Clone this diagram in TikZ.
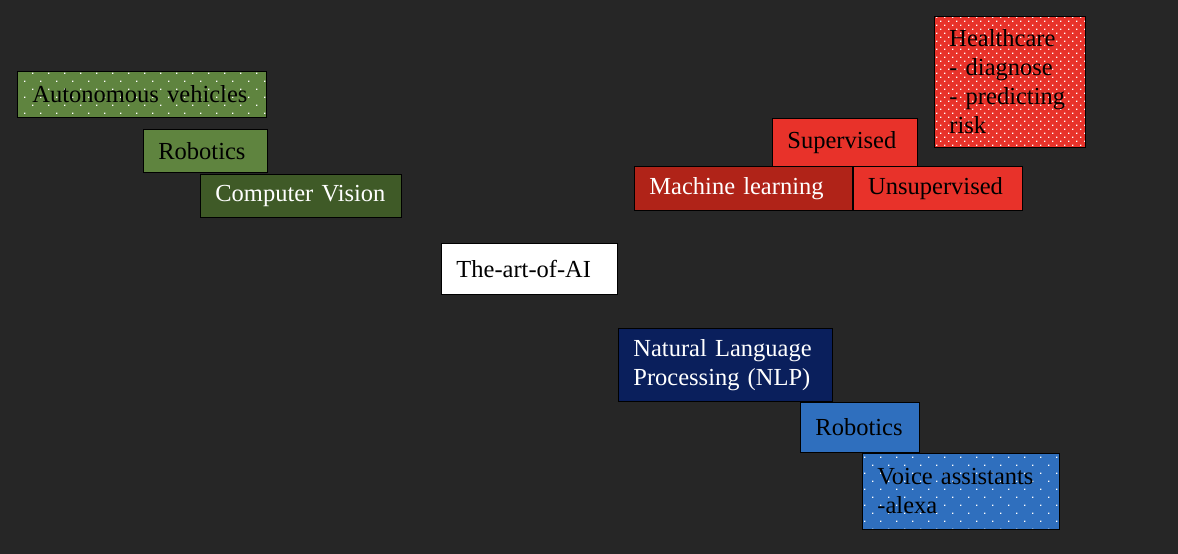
\documentclass[tikz,border=0pt]{standalone}
\usepackage{fontspec}
\setmainfont{Liberation Serif}
\usetikzlibrary{positioning}
\usetikzlibrary{patterns}
\definecolor{bgdark}{HTML}{262626}
\definecolor{leafgreen}{HTML}{5F843F}
\definecolor{mossgreen}{HTML}{3F5A27}
\definecolor{brightred}{HTML}{E8322A}
\definecolor{deepred}{HTML}{B02318}
\definecolor{navyblue}{HTML}{0A1F5C}
\definecolor{skyblue}{HTML}{2F6FBE}
% white dot patterns
\pgfdeclarepatternformonly{sparsedots}{\pgfqpoint{-1pt}{-1pt}}{\pgfqpoint{17pt}{17pt}}{\pgfqpoint{16pt}{16pt}}{
  \pgfpathrectangle{\pgfqpoint{0pt}{0pt}}{\pgfqpoint{1.4pt}{1.4pt}}
  \pgfpathrectangle{\pgfqpoint{8pt}{8pt}}{\pgfqpoint{1.4pt}{1.4pt}}
  \pgfusepath{fill}}
\pgfdeclarepatternformonly{densedots}{\pgfqpoint{-1pt}{-1pt}}{\pgfqpoint{9pt}{9pt}}{\pgfqpoint{8pt}{8pt}}{
  \pgfpathrectangle{\pgfqpoint{0pt}{0pt}}{\pgfqpoint{1.4pt}{1.4pt}}
  \pgfpathrectangle{\pgfqpoint{4pt}{4pt}}{\pgfqpoint{1.4pt}{1.4pt}}
  \pgfusepath{fill}}
\tikzset{
    topicbox/.style={
        draw=black,
        line width=0.8pt,
        anchor=north west,
        inner xsep=15pt,
        inner ysep=0pt,
        align=left,
        text=black,
        font=\fontsize{24.5}{29}\selectfont
    },
    lighttext/.style={text=white},
    dotted box/.style 2 args={
        preaction={fill=#1},
        pattern=#2,
        pattern color=white
    }
}

\begin{document}
\begin{tikzpicture}[x=1pt,y=-1pt]
\useasboundingbox[fill=bgdark] (0,0) rectangle (1178,554);

% left branch
\node[topicbox, dotted box={leafgreen}{sparsedots}, text width=219pt, minimum height=46pt] (autoveh) at (17,71) {Autonomous vehicles};
\node[topicbox, fill=leafgreen, text width=94pt, minimum height=43pt] (robogreen) at (143,129) {Robotics};
\node[topicbox, fill=mossgreen, lighttext, text width=171pt, minimum height=43pt] (vision) [below right=1pt and 57pt of robogreen.south west] {Computer Vision};

% centre
\node[topicbox, fill=white, text width=146pt, minimum height=51pt] (artai) at (441,243) {The-art-of-AI};

% upper right branch
\node[topicbox, fill=brightred, text width=115pt, minimum height=49pt] (superv) at (772,118) {Supervised};
\node[topicbox, fill=deepred, lighttext, text width=188pt, minimum height=44pt] (mlearn) at (634,166) {Machine learning};
\node[topicbox, fill=brightred, text width=139pt, minimum height=44pt] (unsuperv) [right=0pt of mlearn] {Unsupervised};
\node[topicbox, dotted box={brightred}{densedots}, text width=121pt, minimum height=131pt] (health) at (934,16) {Healthcare\\- diagnose\\- predicting\\risk};

% lower right branch
\node[topicbox, fill=navyblue, lighttext, text width=184pt, minimum height=73pt] (nlp) at (618,328) {Natural Language\\Processing (NLP)};
\node[topicbox, fill=skyblue, text width=89pt, minimum height=50pt] (roboblue) at (800,402) {Robotics};
\node[topicbox, dotted box={skyblue}{sparsedots}, text width=167pt, minimum height=76pt] (voice) [below right=0pt and 62pt of roboblue.south west] {Voice assistants\\-alexa};
\end{tikzpicture}
\end{document}
